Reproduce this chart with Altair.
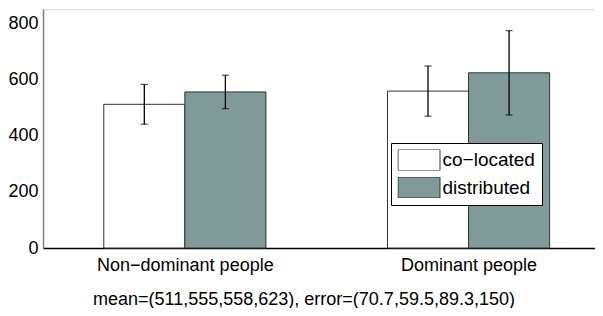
import altair as alt
import pandas as pd

groups = ["Non−dominant people", "Dominant people"]
group_pos = [1, 2]
series = ["co−located", "distributed"]
means = [511, 555, 558, 623]
errors = [70.7, 59.5, 89.3, 150]
colors = ["#ffffff", "#7f9a98"]
y_ticks = [0, 200, 400, 600, 800]
caption = "mean=(511,555,558,623), error=(70.7,59.5,89.3,150)"

FONT = "Liberation Sans"
bar_w = 2 / 7  # MATLAB grouped-bar width for two series

rows = []
for gi, g in enumerate(groups):
    for si, s in enumerate(series):
        k = gi * 2 + si
        c = group_pos[gi] + (si - 0.5) * bar_w
        rows.append(dict(group=g, series=s, x0=c - bar_w / 2, x1=c + bar_w / 2, xc=c,
                         mean=means[k], lo=means[k] - errors[k], hi=means[k] + errors[k]))
df = pd.DataFrame(rows)

label_expr = " : ".join(
    [f"datum.value == {p} ? '{g}'" for p, g in zip(group_pos[:-1], groups[:-1])] + [f"'{groups[-1]}'"]
)

xscale = alt.Scale(domain=[0.5, 2.4457], nice=False, zero=False)
yscale = alt.Scale(domain=[0, 850], nice=False)

xaxis = alt.Axis(values=group_pos, labelExpr=label_expr, title=None, ticks=False, tickSize=0,
                 labelPadding=8, labelFontSize=18, labelFont=FONT, labelColor="black",
                 domainColor="black", domainWidth=1.5, grid=False, labelFlush=False)
yaxis = alt.Axis(values=y_ticks, title=None, ticks=False, tickSize=0, labelPadding=5,
                 labelFontSize=18, labelFont=FONT, labelColor="black",
                 domainColor="#808080", domainWidth=1.5, grid=False)

base = alt.Chart(df)

bars = base.mark_bar(stroke="#333333", strokeWidth=1).encode(
    x=alt.X("x0:Q", scale=xscale, axis=xaxis),
    x2="x1:Q",
    y=alt.Y("mean:Q", scale=yscale, axis=yaxis),
    y2=alt.datum(0),
    fill=alt.Fill("series:N", scale=alt.Scale(domain=series, range=colors),
                  legend=alt.Legend(title=None, orient="none", legendX=348, legendY=134,
                                    symbolType="M-1,-0.5H1V0.5H-1Z", symbolSize=1764,
                                    symbolStrokeColor="#333333", symbolStrokeWidth=1,
                                    symbolOpacity=1, clipHeight=21,
                                    labelFont=FONT, labelFontSize=19, labelColor="black",
                                    labelOffset=2, strokeColor="black", fillColor="white",
                                    padding=6.5, rowPadding=6.5)),
)

rules = base.mark_rule(color="black", strokeWidth=1.3).encode(
    x=alt.X("xc:Q", scale=xscale), y=alt.Y("lo:Q", scale=yscale), y2="hi:Q"
)
cap_lo = base.mark_tick(orient="horizontal", size=7, thickness=1.2, color="black").encode(
    x=alt.X("xc:Q", scale=xscale), y=alt.Y("lo:Q", scale=yscale)
)
cap_hi = base.mark_tick(orient="horizontal", size=7, thickness=1.2, color="black").encode(
    x=alt.X("xc:Q", scale=xscale), y=alt.Y("hi:Q", scale=yscale)
)

cap_text = alt.Chart(pd.DataFrame({"t": [caption]})).mark_text(
    font=FONT, fontSize=18, color="black", align="center", baseline="middle"
).encode(text="t:N", x=alt.value(261), y=alt.value(291))

chart = alt.layer(bars, rules, cap_lo, cap_hi, cap_text).properties(
    width=552, height=239,
    padding={"left": 35, "top": 1, "right": 0, "bottom": 60},
    autosize=alt.AutoSizeParams(type="none"),
).configure_view(stroke=None).configure(background="white")

chart.save("out.html", embed_options={"renderer": "svg", "actions": False})
